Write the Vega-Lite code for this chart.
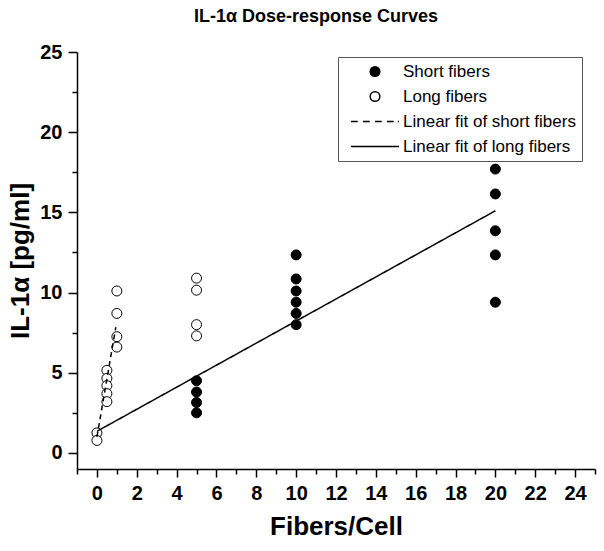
{
  "$schema": "https://vega.github.io/schema/vega-lite/v6.json",
  "autosize": {"type": "none"},
  "width": 518,
  "height": 417,
  "padding": {"left": 77, "top": 52, "right": 9, "bottom": 82},
  "title": {"text": "IL-1α Dose-response Curves", "font": "Liberation Sans", "fontSize": 18, "fontWeight": "bold", "anchor": "middle", "dx": -20, "dy": 17, "offset": 19, "baseline": "alphabetic", "color": "black"},
  "config": {
    "view": {"stroke": null},
    "axis": {"grid": false, "domainColor": "black", "domainWidth": 1.5, "tickColor": "black", "tickWidth": 1.5, "labelFont": "Liberation Sans", "labelFontWeight": "bold", "labelFontSize": 20, "labelColor": "black", "titleFont": "Liberation Sans", "titleFontWeight": "bold", "titleFontSize": 26, "titleColor": "black", "labelFlush": false, "labelOverlap": false},
    "legend": {"strokeColor": "#555555", "padding": 6, "symbolOffset": 6, "labelOffset": 3, "labelFont": "Liberation Sans", "labelFontSize": 17, "labelColor": "black", "labelLimit": 400, "rowPadding": 7, "clipHeight": 17, "symbolSize": 2304, "symbolStrokeWidth": 1.5, "symbolStrokeColor": "black"}
  },
  "datasets": {
    "points": [
      {"fibers": 0, "il1a": 1.25, "series": "Long fibers"},
      {"fibers": 0, "il1a": 0.78, "series": "Long fibers"},
      {"fibers": 0.5, "il1a": 5.15, "series": "Long fibers"},
      {"fibers": 0.5, "il1a": 4.65, "series": "Long fibers"},
      {"fibers": 0.5, "il1a": 4.2, "series": "Long fibers"},
      {"fibers": 0.5, "il1a": 3.7, "series": "Long fibers"},
      {"fibers": 0.5, "il1a": 3.2, "series": "Long fibers"},
      {"fibers": 1, "il1a": 10.1, "series": "Long fibers"},
      {"fibers": 1, "il1a": 8.7, "series": "Long fibers"},
      {"fibers": 1, "il1a": 7.25, "series": "Long fibers"},
      {"fibers": 1, "il1a": 6.6, "series": "Long fibers"},
      {"fibers": 5, "il1a": 10.9, "series": "Long fibers"},
      {"fibers": 5, "il1a": 10.15, "series": "Long fibers"},
      {"fibers": 5, "il1a": 8.0, "series": "Long fibers"},
      {"fibers": 5, "il1a": 7.3, "series": "Long fibers"},
      {"fibers": 5, "il1a": 4.5, "series": "Short fibers"},
      {"fibers": 5, "il1a": 3.8, "series": "Short fibers"},
      {"fibers": 5, "il1a": 3.15, "series": "Short fibers"},
      {"fibers": 5, "il1a": 2.5, "series": "Short fibers"},
      {"fibers": 10, "il1a": 12.35, "series": "Short fibers"},
      {"fibers": 10, "il1a": 10.85, "series": "Short fibers"},
      {"fibers": 10, "il1a": 10.1, "series": "Short fibers"},
      {"fibers": 10, "il1a": 9.4, "series": "Short fibers"},
      {"fibers": 10, "il1a": 8.7, "series": "Short fibers"},
      {"fibers": 10, "il1a": 8.0, "series": "Short fibers"},
      {"fibers": 20, "il1a": 17.7, "series": "Short fibers"},
      {"fibers": 20, "il1a": 16.15, "series": "Short fibers"},
      {"fibers": 20, "il1a": 13.85, "series": "Short fibers"},
      {"fibers": 20, "il1a": 12.35, "series": "Short fibers"},
      {"fibers": 20, "il1a": 9.4, "series": "Short fibers"}
    ],
    "fits": [
      {"fibers": 0, "il1a": 1.0, "series": "Linear fit of short fibers"},
      {"fibers": 0.95, "il1a": 7.85, "series": "Linear fit of short fibers"},
      {"fibers": 0, "il1a": 1.35, "series": "Linear fit of long fibers"},
      {"fibers": 20, "il1a": 15.1, "series": "Linear fit of long fibers"}
    ]
  },
  "layer": [
    {
      "data": {"name": "points"},
      "mark": {"type": "point", "filled": false, "opacity": 1, "strokeWidth": 1, "size": 2500},
      "encoding": {
        "x": {"field": "fibers", "type": "quantitative", "scale": {"domain": [-1, 25], "nice": false, "zero": false},
          "axis": {"title": "Fibers/Cell", "format": "d", "values": [-1,0,1,2,3,4,5,6,7,8,9,10,11,12,13,14,15,16,17,18,19,20,21,22,23,24,25],
            "tickCount": 40,
            "labelExpr": "(datum.value % 2 === 0 && datum.value >= 0) ? datum.label : ''",
            "tickSize": {"condition": {"test": "datum.value % 2 === 0", "value": 8}, "value": 5},
            "labelPadding": 6, "titlePadding": 10}},
        "y": {"field": "il1a", "type": "quantitative", "scale": {"domain": [-1, 25], "nice": false, "zero": false},
          "axis": {"title": "IL-1α [pg/ml]", "format": "d", "values": [0,2.5,5,7.5,10,12.5,15,17.5,20,22.5,25],
            "tickCount": 40,
            "labelExpr": "datum.value % 5 === 0 ? datum.label : ''",
            "tickSize": {"condition": {"test": "datum.value % 5 === 0", "value": 9}, "value": 5},
            "labelPadding": 6, "titlePadding": 6}},
        "shape": {"field": "series", "type": "nominal",
          "scale": {"domain": ["Short fibers", "Long fibers", "Linear fit of short fibers", "Linear fit of long fibers"],
            "range": ["M0.2,0A0.2,0.2,0,1,1,-0.2,0A0.2,0.2,0,1,1,0.2,0Z", "M0.2,0A0.2,0.2,0,1,1,-0.2,0A0.2,0.2,0,1,1,0.2,0Z", "M-1,0H-0.72M-0.5,0H-0.22M0,0H0.28M0.5,0H0.78M0.95,0H1", "M-1,0H1"]},
          "legend": {"title": null, "orient": "none", "legendX": 261, "legendY": 5}},
        "fill": {"field": "series", "type": "nominal",
          "scale": {"domain": ["Short fibers", "Long fibers", "Linear fit of short fibers", "Linear fit of long fibers"],
            "range": ["black", "white", "transparent", "transparent"]},
          "legend": {"title": null, "orient": "none", "legendX": 261, "legendY": 5}},
        "stroke": {"field": "series", "type": "nominal",
          "scale": {"domain": ["Short fibers", "Long fibers", "Linear fit of short fibers", "Linear fit of long fibers"],
            "range": ["black", "black", "black", "black"]},
          "legend": {"title": null, "orient": "none", "legendX": 261, "legendY": 5}}
      }
    },
    {
      "data": {"name": "fits"},
      "mark": {"type": "line", "color": "black", "strokeWidth": 1.5},
      "encoding": {
        "x": {"field": "fibers", "type": "quantitative"},
        "y": {"field": "il1a", "type": "quantitative"},
        "strokeDash": {"field": "series", "type": "nominal",
          "scale": {"domain": ["Linear fit of short fibers", "Linear fit of long fibers"], "range": [[5, 4], [1, 0]]},
          "legend": null}
      }
    }
  ]
}
